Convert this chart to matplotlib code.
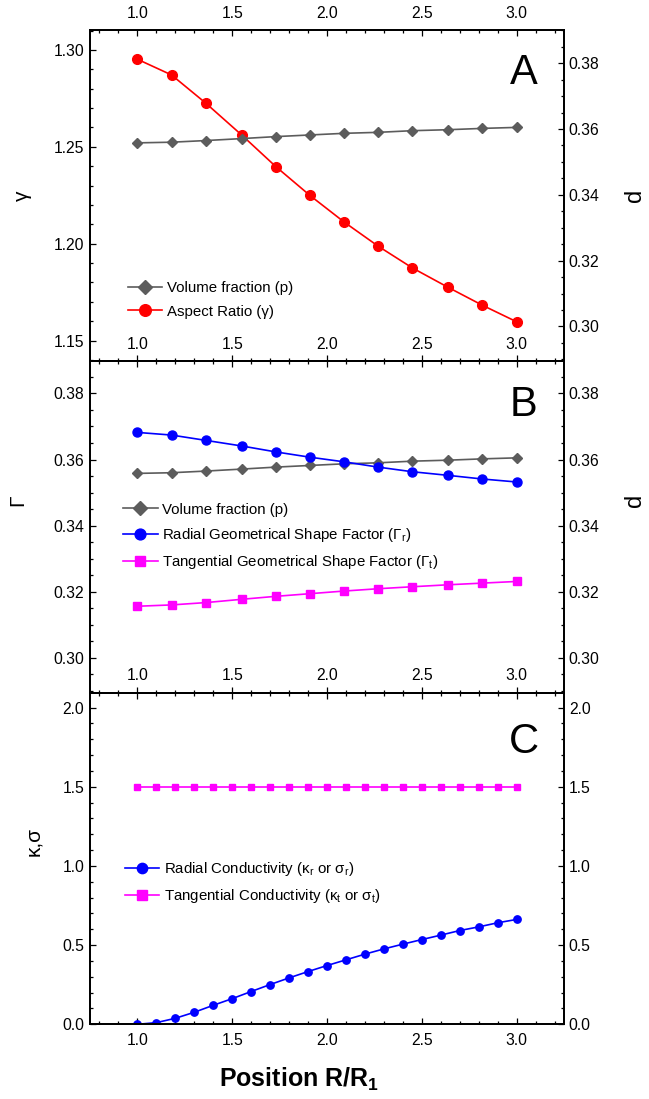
import matplotlib
matplotlib.use("Agg")
import matplotlib.pyplot as plt
from matplotlib.ticker import MultipleLocator, FormatStrFormatter

plt.rcParams['font.family'] = ['Liberation Sans', 'DejaVu Sans']
plt.rcParams['mathtext.fontset'] = 'custom'
plt.rcParams['mathtext.rm'] = 'Liberation Sans'
plt.rcParams['mathtext.it'] = 'Liberation Sans:italic'
plt.rcParams['mathtext.bf'] = 'Liberation Sans:bold'

# ---------------- data ----------------
pos12 = [1.0, 1.18, 1.36, 1.55, 1.73, 1.91, 2.09, 2.27, 2.45, 2.64, 2.82, 3.0]
pos21 = [1.0, 1.1, 1.2, 1.3, 1.4, 1.5, 1.6, 1.7, 1.8, 1.9, 2.0,
         2.1, 2.2, 2.3, 2.4, 2.5, 2.6, 2.7, 2.8, 2.9, 3.0]

volume_fraction = [0.3558, 0.3560, 0.3565, 0.3571, 0.3577, 0.3582,
                   0.3587, 0.3590, 0.3595, 0.3598, 0.3602, 0.3605]
aspect_ratio = [1.2952, 1.2871, 1.2726, 1.2561, 1.2398, 1.2249,
                1.2112, 1.1987, 1.1875, 1.1774, 1.1682, 1.1597]
gamma_r = [0.3682, 0.3674, 0.3658, 0.3641, 0.3623, 0.3607,
           0.3593, 0.3577, 0.3563, 0.3552, 0.3541, 0.3532]
gamma_t = [0.3156, 0.3160, 0.3167, 0.3177, 0.3186, 0.3194,
           0.3202, 0.3209, 0.3215, 0.3221, 0.3226, 0.3231]
kappa_r = [0.0, 0.0105, 0.038, 0.076, 0.120, 0.162, 0.207, 0.251, 0.293,
           0.333, 0.371, 0.407, 0.443, 0.476, 0.506, 0.535, 0.563, 0.592,
           0.615, 0.641, 0.662]
kappa_t = [1.5] * 21

GRAY = '#5c5c5c'
RED = '#ff0000'
BLUE = '#0000ff'
MAG = '#ff00ff'

fig = plt.figure(figsize=(6.49, 10.99), dpi=100)
L, W = 90 / 649, 474 / 649


def frac(top_px, bot_px):
    return [L, 1 - bot_px / 1099, W, (bot_px - top_px) / 1099]


axA = fig.add_axes(frac(30, 360.7))
axB = fig.add_axes(frac(360.7, 692.5))
axC = fig.add_axes(frac(692.5, 1024.3))

TICK_FS = 11.3
LBL_FS = 15
D_FS = 17
LEG_FS = 10.8
LEG_KW = dict(frameon=False, fontsize=LEG_FS, handlelength=2.3,
              handletextpad=0.3, borderpad=0, borderaxespad=0,
              labelspacing=0.62, loc='upper left')


def style(ax, tw, ymaj, ymin, fmt, labelbottom=False):
    ax.set_xlim(0.75, 3.25)
    ax.xaxis.set_major_locator(MultipleLocator(0.5))
    ax.xaxis.set_minor_locator(MultipleLocator(0.1))
    ax.xaxis.set_major_formatter(FormatStrFormatter('%.1f'))
    for a in (ax, tw):
        a.yaxis.set_major_locator(MultipleLocator(ymaj))
        a.yaxis.set_minor_locator(MultipleLocator(ymin))
        a.yaxis.set_major_formatter(FormatStrFormatter(fmt))
    ax.tick_params(which='both', direction='in', top=True, bottom=True,
                   left=True, right=False, labeltop=True,
                   labelbottom=labelbottom, labelsize=TICK_FS, width=0.9)
    ax.tick_params(axis='x', which='major', length=4.5, pad=6.5)
    ax.tick_params(axis='x', which='minor', length=2.5)
    ax.tick_params(axis='y', which='major', length=4.5, pad=4)
    ax.tick_params(axis='y', which='minor', length=2.5)
    tw.tick_params(which='both', direction='in', right=True, left=False,
                   labelsize=TICK_FS, width=0.9)
    tw.tick_params(axis='y', which='major', length=4.5, pad=3.5)
    tw.tick_params(axis='y', which='minor', length=2.5)
    for a in (ax, tw):
        for s in a.spines.values():
            s.set_linewidth(1.3)


# ---------------- Panel A ----------------
twA = axA.twinx()
lA1, = twA.plot(pos12, volume_fraction, color=GRAY, marker='D', ms=5.6,
                lw=1.2, label='Volume fraction (p)')
lA2, = axA.plot(pos12, aspect_ratio, color=RED, marker='o', ms=7,
                lw=1.2, label='Aspect Ratio (γ)')
axA.set_ylim(1.1396, 1.3103)
twA.set_ylim(0.2896, 0.3901)
style(axA, twA, 0.05, 0.01, '%.2f')
twA.yaxis.set_major_locator(MultipleLocator(0.02))
twA.yaxis.set_minor_locator(MultipleLocator(0.005))
axA.set_ylabel('γ', fontsize=LBL_FS)
axA.yaxis.set_label_coords(-0.122, 0.5)
twA.set_ylabel('d', fontsize=D_FS)
twA.yaxis.set_label_coords(1.127, 0.5)
twA.legend(handles=[lA1, lA2], bbox_to_anchor=(0.08, 0.24),
           markerscale=1.2, **LEG_KW)
axA.text(0.915, 0.87, 'A', transform=axA.transAxes, fontsize=30,
         ha='center', va='center')

# ---------------- Panel B ----------------
twB = axB.twinx()
lB1, = axB.plot(pos12, volume_fraction, color=GRAY, marker='D', ms=5.6,
                lw=1.2, label='Volume fraction (p)')
lB2, = axB.plot(pos12, gamma_r, color=BLUE, marker='o', ms=6.5, lw=1.2,
                label='Radial Geometrical Shape Factor (Γ$_\\mathrm{r}$)')
lB3, = axB.plot(pos12, gamma_t, color=MAG, marker='s', ms=5.8, lw=1.2,
                label='Tangential Geometrical Shape Factor (Γ$_\\mathrm{t}$)')
axB.set_ylim(0.2895, 0.3899)
twB.set_ylim(0.2895, 0.3899)
style(axB, twB, 0.02, 0.005, '%.2f')
axB.set_ylabel('Γ', fontsize=LBL_FS)
axB.yaxis.set_label_coords(-0.133, 0.58)
twB.set_ylabel('d', fontsize=D_FS)
twB.yaxis.set_label_coords(1.127, 0.58)
axB.legend(handles=[lB1, lB2, lB3], bbox_to_anchor=(0.07, 0.572),
           markerscale=1.2, **LEG_KW)
axB.text(0.915, 0.865, 'B', transform=axB.transAxes, fontsize=30,
         ha='center', va='center')

# ---------------- Panel C ----------------
twC = axC.twinx()
lC1, = axC.plot(pos21, kappa_r, color=BLUE, marker='o', ms=5.3, lw=1.2,
                label='Radial Conductivity (κ$_\\mathrm{r}$ or σ$_\\mathrm{r}$)')
lC2, = axC.plot(pos21, kappa_t, color=MAG, marker='s', ms=5.0, lw=1.2,
                label='Tangential Conductivity (κ$_\\mathrm{t}$ or σ$_\\mathrm{t}$)')
axC.set_ylim(0, 2.095)
twC.set_ylim(0, 2.095)
style(axC, twC, 0.5, 0.1, '%.1f', labelbottom=True)
axC.set_ylabel('κ,σ', fontsize=LBL_FS)
axC.yaxis.set_label_coords(-0.098, 0.55)
axC.legend(handles=[lC1, lC2], bbox_to_anchor=(0.073, 0.495),
           markerscale=1.4, **LEG_KW)
axC.text(0.915, 0.852, 'C', transform=axC.transAxes, fontsize=30,
         ha='center', va='center')
axC.set_xlabel('Position R/R$_\\mathbf{1}$', fontsize=18, fontweight='bold')
axC.xaxis.set_label_coords(0.44, -0.125)

fig.savefig('out.png', dpi=100)
